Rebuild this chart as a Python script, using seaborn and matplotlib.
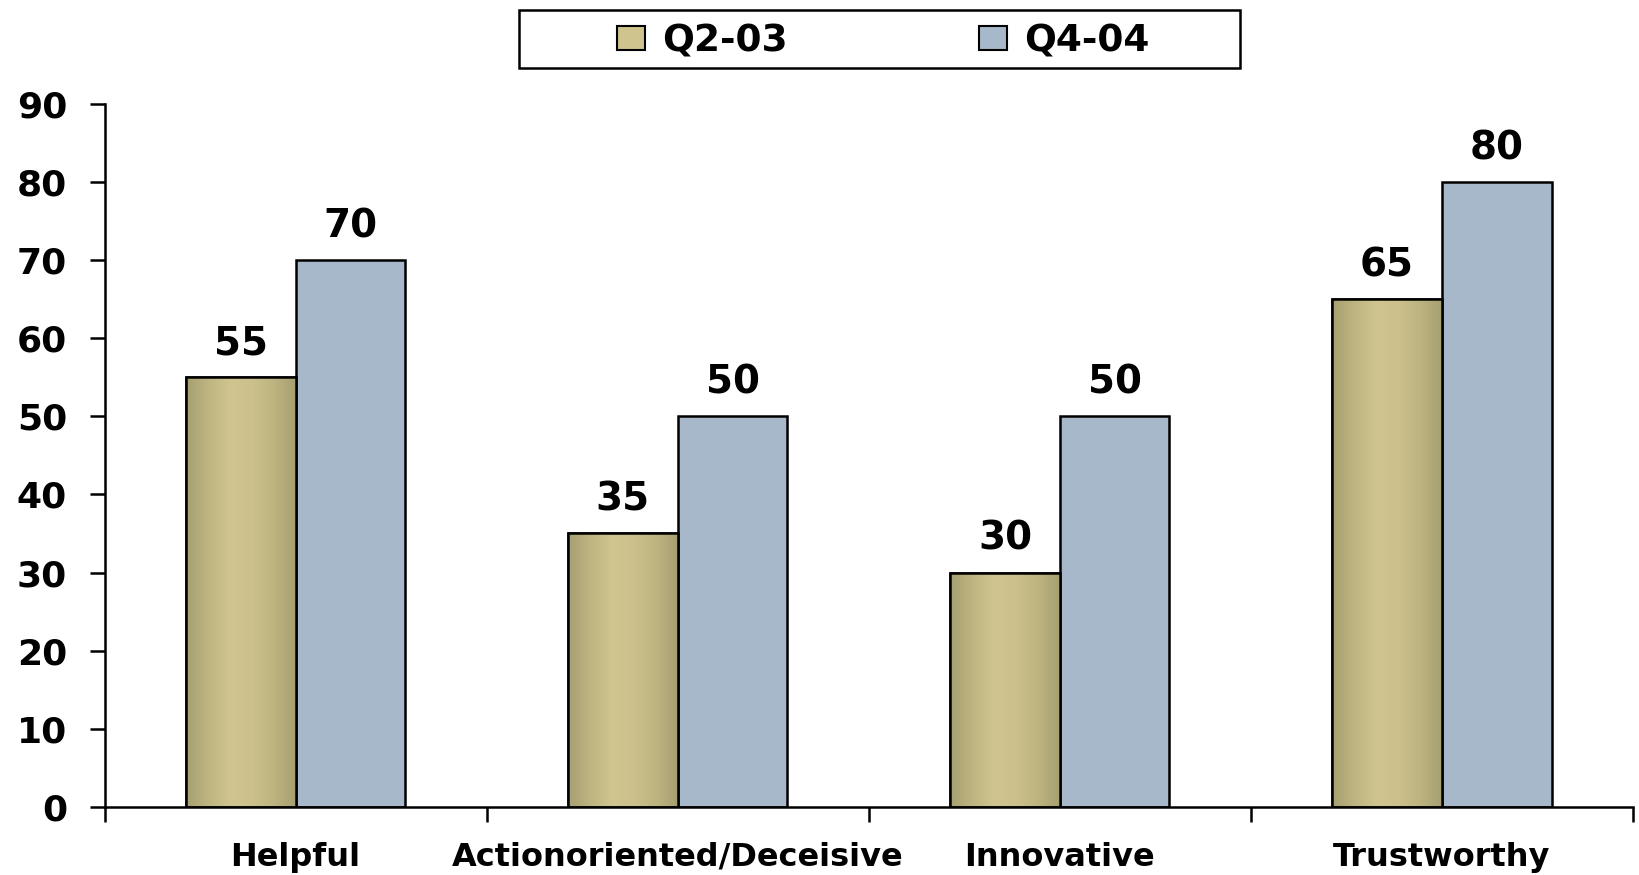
import numpy as np
import pandas as pd
import matplotlib
matplotlib.use("Agg")
import matplotlib.pyplot as plt
import seaborn as sns
from matplotlib.colors import LinearSegmentedColormap
from matplotlib.patches import Rectangle

categories = ["Helpful", "Actionoriented/Deceisive", "Innovative", "Trustworthy"]
series = ["Q2-03", "Q4-04"]
q2_03 = [55, 35, 30, 65]
q4_04 = [70, 50, 50, 80]
y_ticks = [0, 10, 20, 30, 40, 50, 60, 70, 80, 90]

df = pd.DataFrame({
    "category": categories * 2,
    "period": [series[0]] * 4 + [series[1]] * 4,
    "value": q2_03 + q4_04,
})

sns.set_theme(style="white")
plt.rcParams["font.family"] = ["DejaVu Sans"]
plt.rcParams["font.weight"] = "bold"
plt.rcParams["text.color"] = "black"
plt.rcParams["xtick.color"] = "black"
plt.rcParams["ytick.color"] = "black"
plt.rcParams["xtick.labelcolor"] = "black"
plt.rcParams["ytick.labelcolor"] = "black"

gold = "#CFC48E"
blue = "#A7B8CA"

fig = plt.figure(figsize=(16.39, 8.75), dpi=100)
ax = fig.add_axes([0.0638, 0.0777, 0.9325, 0.804])

sns.barplot(data=df, x="category", y="value", hue="period", order=categories,
            hue_order=series, palette=[gold, blue], saturation=1, width=0.574, gap=0,
            edgecolor="black", linewidth=1.8, legend=False, ax=ax)

# Horizontal shading for the first series: darker edges, light centre
shade = LinearSegmentedColormap.from_list(
    "gold_shade", ["#A69F70", "#BDB481", "#D0C58F", "#CCC18C", "#BDB481", "#A69F70"])
grad = np.linspace(0, 1, 256).reshape(1, -1)
bars = list(ax.patches)
n = len(categories)
for p in bars[:n]:
    x0, y0 = p.get_x(), p.get_y()
    w, h = p.get_width(), p.get_height()
    im = ax.imshow(grad, cmap=shade, aspect="auto", extent=[x0, x0 + w, y0, y0 + h],
                   zorder=p.get_zorder() + 0.1, interpolation="bicubic")
    im.set_clip_path(p)
    ax.add_patch(Rectangle((x0, y0), w, h, fill=False, edgecolor="black",
                           linewidth=1.8, zorder=p.get_zorder() + 0.2))

ax.set_xlim(-0.5, len(categories) - 0.5)
ax.set_ylim(0, 90)
ax.set_yticks(y_ticks)
ax.set_yticklabels([str(t) for t in y_ticks], fontsize=26, fontweight="bold", color="black")
ax.set_xticks(np.arange(len(categories)))
ax.set_xticklabels(categories, fontsize=23, fontweight="bold", color="black")
ax.set_xlabel("")
ax.set_ylabel("")

# Value labels above each bar
for p in bars:
    v = p.get_height()
    ax.text(p.get_x() + p.get_width() / 2, v + 2.9, f"{v:.0f}", ha="center", va="baseline",
            fontsize=28, fontweight="bold", color="black")

for side in ["top", "right"]:
    ax.spines[side].set_visible(False)
for side in ["left", "bottom"]:
    ax.spines[side].set_color("black")
    ax.spines[side].set_linewidth(1.8)

# Category separators as outward ticks on the x axis
ax.set_xticks(np.arange(len(categories) + 1) - 0.5, minor=True)
ax.tick_params(axis="x", which="major", length=0, pad=25)
ax.tick_params(axis="x", which="minor", length=11, width=1.8, color="black", direction="out",
               bottom=True)
ax.tick_params(axis="y", which="major", length=11, width=1.8, color="black", direction="out",
               left=True, pad=16)

# Legend entries, with a separate frame drawn around them
handles = [Rectangle((0, 0), 1, 1, facecolor=gold, edgecolor="black", linewidth=1.5),
           Rectangle((0, 0), 1, 1, facecolor=blue, edgecolor="black", linewidth=1.5)]
leg = fig.legend(handles, series, loc="center left", bbox_to_anchor=(617 / 1639, 0.953), ncol=2,
                 frameon=False, labelcolor="black",
                 prop={"family": "DejaVu Sans", "weight": "bold", "size": 27},
                 handlelength=0.75, handleheight=0.62, handletextpad=0.45,
                 columnspacing=5.1, borderpad=0, borderaxespad=0)
fig.patches.append(Rectangle((519 / 1639, 1 - 68 / 875), (1240 - 519) / 1639, 58 / 875,
                             transform=fig.transFigure, fill=False, edgecolor="black",
                             linewidth=1.8, zorder=0))

fig.savefig("out.png", dpi=100)
